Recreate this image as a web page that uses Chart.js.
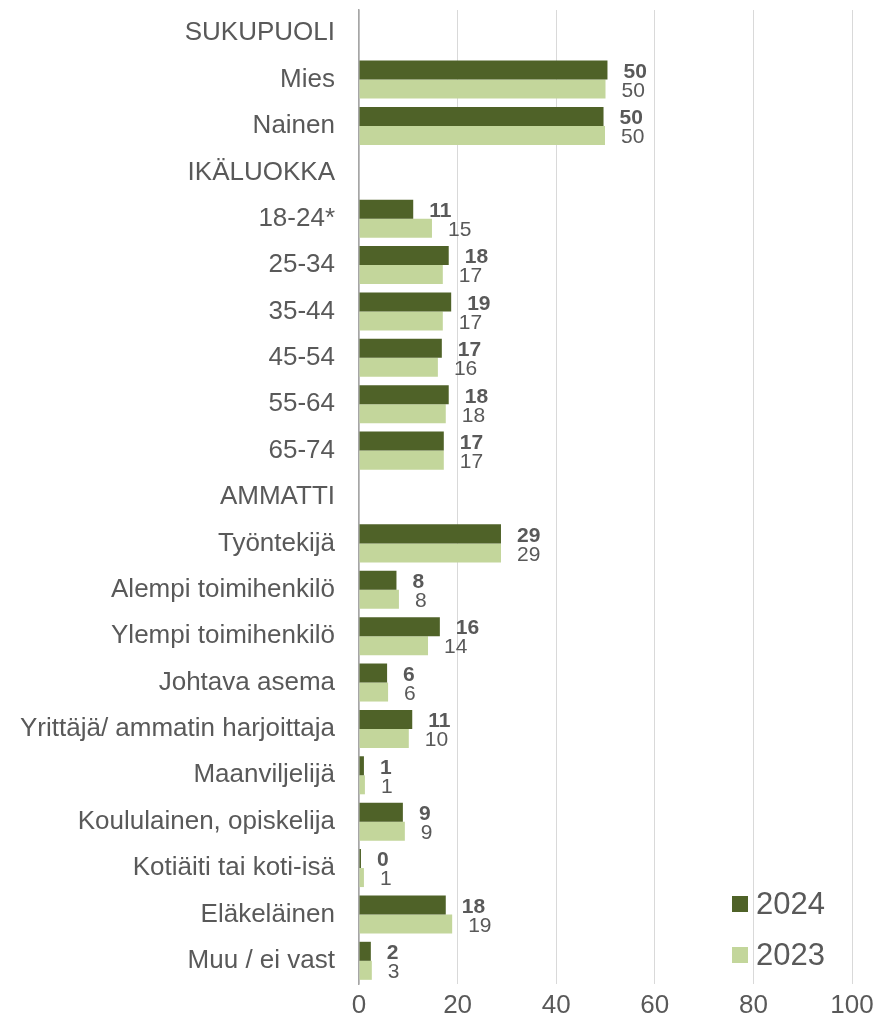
<!DOCTYPE html>
<html>
<head>
<meta charset="utf-8">
<script src="https://cdn.jsdelivr.net/npm/chart.js@4"></script>
<style>
  body { margin: 0; background: #fff; }
  #wrap { position: relative; width: 881px; height: 1025px; }
  .leg { position: absolute; left: 732px; font: 31px "Liberation Sans", Arial, sans-serif; color: #595959; display: flex; align-items: center; }
  .leg span.box { width: 16px; height: 16px; display: inline-block; margin-right: 8px; }
</style>
</head>
<body>
<div id="wrap">
  <canvas id="c" width="881" height="1025"></canvas>
  <div class="leg" style="top:886px"><span class="box" style="background:#4F6228"></span>2024</div>
  <div class="leg" style="top:937px"><span class="box" style="background:#C3D69B"></span>2023</div>
</div>
<script>
const categories = [
  "SUKUPUOLI", "Mies", "Nainen",
  "IKÄLUOKKA", "18-24*", "25-34", "35-44", "45-54", "55-64", "65-74",
  "AMMATTI", "Työntekijä", "Alempi toimihenkilö", "Ylempi toimihenkilö", "Johtava asema",
  "Yrittäjä/ ammatin harjoittaja", "Maanviljelijä", "Koululainen, opiskelija",
  "Kotiäiti tai koti-isä", "Eläkeläinen", "Muu / ei vast"
]
const values2024 = [null, 50.4, 49.6, null, 11.0, 18.2, 18.7, 16.8, 18.2, 17.2, null, 28.8, 7.6, 16.4, 5.7, 10.8, 1.0, 8.9, 0.4, 17.6, 2.4]
const values2023 = [null, 50.0, 49.9, null, 14.8, 17.0, 17.0, 16.0, 17.6, 17.2, null, 28.8, 8.1, 14.0, 5.9, 10.1, 1.2, 9.3, 1.0, 18.9, 2.6]
const xTicks = [0, 20, 40, 60, 80, 100]

const FONT = '"Liberation Sans", Arial, sans-serif'
const GREY = '#595959'

// etiquettes des valeurs, a droite des barres
const valueLabels = {
  id: 'valueLabels',
  afterDatasetsDraw(chart){
    const ctx = chart.ctx
    ctx.save()
    ctx.textAlign = 'left'
    ctx.textBaseline = 'middle'
    ctx.fillStyle = GREY
    chart.data.datasets.forEach((ds, i) => {
      const meta = chart.getDatasetMeta(i)
      ctx.font = (i == 0 ? 'bold ' : '') + '21px ' + FONT
      meta.data.forEach((el, j) => {
        const v = ds.data[j]
        if(v === null) return
        ctx.fillText(Math.round(v), el.x + 16, el.y + 2)
      })
    })
    ctx.restore()
  }
}

new Chart(document.getElementById('c'), {
  type: 'bar',
  data: {
    labels: categories,
    datasets: [
      { label: '2024', data: values2024, backgroundColor: '#4F6228' },
      { label: '2023', data: values2023, backgroundColor: '#C3D69B' }
    ]
  },
  options: {
    indexAxis: 'y',
    responsive: false,
    animation: false,
    categoryPercentage: 0.82,
    barPercentage: 1.0,
    layout: { padding: { top: 10, right: 29, left: 0, bottom: 0 } },
    plugins: {
      legend: { display: false },
      tooltip: { enabled: false }
    },
    scales: {
      x: {
        min: 0, max: 100,
        afterBuildTicks(scale){ scale.ticks = xTicks.map(v => ({ value: v })) },
        afterFit(scale){ scale.height = 41; scale.paddingLeft = 0; scale.paddingRight = 0 },
        grid: { color: '#D9D9D9', drawTicks: false },
        border: { display: false },
        ticks: { color: GREY, font: { family: FONT, size: 26 }, padding: 6 }
      },
      y: {
        afterFit(scale){ scale.width = 359; scale.paddingTop = 0; scale.paddingBottom = 0 },
        grid: { display: false, drawTicks: false },
        border: { display: true, color: '#A6A6A6', width: 1.5 },
        ticks: { color: GREY, font: { family: FONT, size: 26 }, padding: 24, autoSkip: false }
      }
    }
  },
  plugins: [valueLabels]
})
</script>
</body>
</html>
